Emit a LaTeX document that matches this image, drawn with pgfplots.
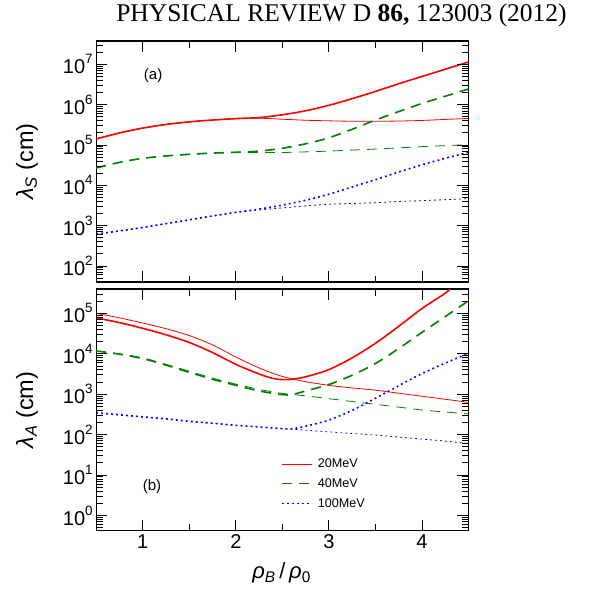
\documentclass[border=0pt]{standalone}
\usepackage{fontspec}
\setmainfont{Liberation Sans}
\newfontfamily\headfont{Liberation Serif}
\usepackage{pgfplots}
\pgfplotsset{compat=1.18}

\definecolor{cred}{rgb}{1,0,0}
\definecolor{cgreen}{rgb}{0,0.5,0}
\definecolor{cblue}{rgb}{0,0,1}

% power-of-ten tick labels set in the text font
\newcommand\tenpow[1]{10\raisebox{0.5em}{\fontsize{13.5}{14}\selectfont #1}}

\pgfplotsset{
  lampanel/.style={
    scale only axis, width=372.3pt,
    xmin=0.5, xmax=4.5,
    xtick={1,2,3,4},
    minor xtick={1.5,2.5,3.5},
    tickwidth=11pt,
    subtickwidth=6.5pt,
    tick style={black, line width=0.9pt},
    axis line style={line width=1.1pt},
    tick label style={font=\fontsize{20}{22}\selectfont},
    every axis y label/.style={at={(axis description cs:-0.186,0.5)},
      rotate=90, anchor=center, font=\fontsize{23.5}{25}\selectfont},
    every axis x label/.style={at={(axis description cs:0.498,-0.175)},
      anchor=center, font=\fontsize{22}{24}\selectfont},
  },
}
\tikzset{
  wline/.style={line width=1.6pt, smooth},
  nline/.style={line width=0.8pt, smooth},
  rline/.style={color=cred, solid},
  gline/.style={color=cgreen, dash pattern=on 10pt off 7pt},
  bline/.style={color=cblue, dash pattern=on 1.8pt off 3.2pt},
  tk/.style={black, line width=0.9pt, solid},
}

% inward tick marks on all four sides of a panel
% #1 = ymin, #2 = ymax, #3 = major y values, #4 = minor y values
\newcommand\panelticks[4]{%
  \pgfplotsinvokeforeach{1,2,3,4}{%
    \draw[tk] (axis cs:##1,#1) -- ++(0pt,11pt);
    \draw[tk] (axis cs:##1,#2) -- ++(0pt,-11pt);}%
  \pgfplotsinvokeforeach{1.5,2.5,3.5}{%
    \draw[tk] (axis cs:##1,#1) -- ++(0pt,6.5pt);
    \draw[tk] (axis cs:##1,#2) -- ++(0pt,-6.5pt);}%
  \pgfplotsinvokeforeach{#3}{%
    \draw[tk] (axis cs:0.5,##1) -- ++(11pt,0pt);
    \draw[tk] (axis cs:4.5,##1) -- ++(-11pt,0pt);}%
  \pgfplotsinvokeforeach{#4}{%
    \draw[tk] (axis cs:0.5,##1) -- ++(6.5pt,0pt);
    \draw[tk] (axis cs:4.5,##1) -- ++(-6.5pt,0pt);}%
}

\begin{document}
\begin{tikzpicture}
\path (0,0) rectangle (597pt,590pt);

\node[anchor=base, font=\headfont\fontsize{25.5}{28}\selectfont]
  at (341.5pt,569pt) {PHYSICAL REVIEW D \textbf{86,} 123003 (2012)};

% (a) lambda_S
\begin{axis}[ymode=log, lampanel, at={(96.2pt,308pt)}, anchor=south west, height=241pt,
  ymin=40, ymax=3.8e7,
  ytick={1e2,1e3,1e4,1e5,1e6,1e7},
  yticklabels={\tenpow{2},\tenpow{3},\tenpow{4},\tenpow{5},\tenpow{6},\tenpow{7}},
  xticklabels={},
  ylabel={{\itshape λ}\textsubscript{\itshape S}\ (cm)}]

\addplot[rline, nline] coordinates {
 (0.5,1.4125e5) (0.75,1.995e5) (1.0,2.630e5) (1.25,3.236e5) (1.5,3.758e5)
 (1.75,4.169e5) (2.0,4.519e5) (2.25,4.624e5) (2.5,4.365e5) (2.75,4.121e5)
 (3.0,3.981e5) (3.25,3.890e5) (3.5,3.890e5) (3.75,3.936e5) (4.0,4.074e5)
 (4.25,4.315e5) (4.5,4.571e5)};
\addplot[rline, wline] coordinates {
 (0.5,1.4125e5) (0.75,1.995e5) (1.0,2.630e5) (1.25,3.236e5) (1.5,3.758e5)
 (1.75,4.169e5) (2.0,4.519e5) (2.25,4.786e5) (2.5,5.623e5) (2.75,7.079e5)
 (3.0,9.661e5) (3.25,1.413e6) (3.5,2.138e6) (3.75,3.311e6) (4.0,5.012e6)
 (4.25,7.586e6) (4.5,1.148e7)};

\addplot[gline, nline] coordinates {
 (0.5,2.692e4) (0.75,3.715e4) (1.0,4.677e4) (1.25,5.370e4) (1.5,5.888e4)
 (1.75,6.310e4) (2.0,6.607e4) (2.25,6.531e4) (2.5,6.531e4) (2.75,6.761e4)
 (3.0,7.079e4) (3.25,7.499e4) (3.5,7.943e4) (3.75,8.511e4) (4.0,9.120e4)
 (4.25,9.661e4) (4.5,1.023e5)};
\addplot[gline, wline] coordinates {
 (0.5,2.692e4) (0.75,3.715e4) (1.0,4.677e4) (1.25,5.370e4) (1.5,5.888e4)
 (1.75,6.310e4) (2.0,6.607e4) (2.25,7.079e4) (2.5,8.318e4) (2.75,1.072e5)
 (3.0,1.514e5) (3.25,2.455e5) (3.5,4.169e5) (3.75,6.761e5) (4.0,1.072e6)
 (4.25,1.622e6) (4.5,2.455e6)};

\addplot[bline, nline] coordinates {
 (0.5,616.6) (0.75,741.3) (1.0,901.6) (1.25,1122) (1.5,1396)
 (1.75,1738) (2.0,2138) (2.25,2455) (2.5,2754) (2.75,3090)
 (3.0,3388) (3.25,3548) (3.5,3715) (3.75,3981) (4.0,4169)
 (4.25,4416) (4.5,4677)};
\addplot[bline, wline] coordinates {
 (0.5,616.6) (0.75,741.3) (1.0,901.6) (1.25,1122) (1.5,1396)
 (1.75,1738) (2.0,2138) (2.25,2570) (2.5,3236) (2.75,4266)
 (3.0,6026) (3.25,9120) (3.5,1.380e4) (3.75,2.138e4) (4.0,3.236e4)
 (4.25,4.677e4) (4.5,6.607e4)};

\panelticks{40}{3.8e7}{100,1000,10000,100000,1000000,10000000}{%
  50,60,70,80,90,200,300,400,500,600,700,800,900,
  2000,3000,4000,5000,6000,7000,8000,9000,
  20000,30000,40000,50000,60000,70000,80000,90000,
  200000,300000,400000,500000,600000,700000,800000,900000,
  2000000,3000000,4000000,5000000,6000000,7000000,8000000,9000000,
  20000000,30000000}

\node[font=\fontsize{15}{16}\selectfont] at (rel axis cs:0.153,0.855) {(a)};
\end{axis}

% (b) lambda_A
\begin{axis}[ymode=log, lampanel, at={(96.2pt,59.3pt)}, anchor=south west, height=241.7pt,
  ymin=0.42, ymax=4e5,
  ytick={1,10,100,1e3,1e4,1e5},
  yticklabels={\tenpow{0},\tenpow{1},\tenpow{2},\tenpow{3},\tenpow{4},\tenpow{5}},
  xticklabels={1,2,3,4},
  ylabel={{\itshape λ}\textsubscript{\itshape A}\ (cm)},
  xlabel={{\itshape ρ}\textsubscript{\itshape B}\,/\,{\itshape ρ}\textsubscript{0}},
  legend style={draw=none, fill=none, at={(axis description cs:0.498,0.306)},
    anchor=north west, font=\fontsize{12.6}{14}\selectfont,
    row sep=5.5pt, column sep=3pt, inner sep=0pt},
  legend cell align=left,
  legend image code/.code={\draw[#1, line width=1.1pt] (0pt,0pt) -- (30pt,0pt);}]

\addplot[rline, nline, forget plot] coordinates {
 (0.5,1.0e5) (0.75,7.762e4) (1.0,5.754e4) (1.25,4.169e4) (1.5,2.818e4)
 (1.75,1.660e4) (2.0,8318) (2.25,4467) (2.5,2754) (2.75,2042)
 (3.0,1660) (3.25,1429) (3.5,1259) (3.75,1059) (4.0,891)
 (4.25,750) (4.5,631)};
\addplot[gline, nline, forget plot] coordinates {
 (0.5,1.175e4) (0.75,1.0e4) (1.0,7943) (1.25,5495) (1.5,3715)
 (1.75,2512) (2.0,1778) (2.25,1318) (2.5,1047) (2.75,912)
 (3.0,776) (3.25,661) (3.5,562) (3.75,479) (4.0,407)
 (4.25,363) (4.5,324)};
\addplot[bline, nline, forget plot] coordinates {
 (0.5,347) (0.75,309) (1.0,275) (1.25,245) (1.5,214)
 (1.75,191) (2.0,170) (2.25,155) (2.5,141) (2.75,129)
 (3.0,117) (3.25,107) (3.5,97.7) (3.75,87.1) (4.0,77.6)
 (4.25,69.2) (4.5,60.3)};

\addplot[rline, wline] coordinates {
 (0.5,7.762e4) (0.75,5.888e4) (1.0,4.266e4) (1.25,2.951e4) (1.5,1.905e4)
 (1.75,1.072e4) (2.0,5495) (2.25,3162) (2.4,2455) (2.5,2291) (2.6,2344)
 (2.75,2692) (3.0,4074) (3.25,7943) (3.5,1.820e4) (3.75,4.786e4)
 (4.0,1.318e5) (4.25,3.162e5) (4.4,6.31e5)};
\addlegendentry{20MeV}
\addplot[gline, wline] coordinates {
 (0.5,1.175e4) (0.75,9772) (1.0,7586) (1.25,5248) (1.5,3467)
 (1.75,2344) (2.0,1660) (2.25,1202) (2.5,977) (2.6,977)
 (2.75,1202) (3.0,1738) (3.25,2951) (3.5,5754) (3.75,1.349e4)
 (4.0,3.388e4) (4.25,8.318e4) (4.5,2.042e5)};
\addlegendentry{40MeV}
\addplot[bline, wline] coordinates {
 (0.5,347) (0.75,309) (1.0,275) (1.25,245) (1.5,214)
 (1.75,191) (2.0,170) (2.25,155) (2.5,141) (2.6,140)
 (2.75,162) (3.0,229) (3.25,398) (3.5,794) (3.75,1622)
 (4.0,3236) (4.25,5888) (4.5,1.023e4)};
\addlegendentry{100MeV}

\panelticks{0.42}{4e5}{1,10,100,1000,10000,100000}{%
  0.5,0.6,0.7,0.8,0.9,2,3,4,5,6,7,8,9,20,30,40,50,60,70,80,90,
  200,300,400,500,600,700,800,900,
  2000,3000,4000,5000,6000,7000,8000,9000,
  20000,30000,40000,50000,60000,70000,80000,90000,
  200000,300000}

\node[font=\fontsize{15}{16}\selectfont] at (rel axis cs:0.150,0.181) {(b)};
\end{axis}
\end{tikzpicture}
\end{document}
